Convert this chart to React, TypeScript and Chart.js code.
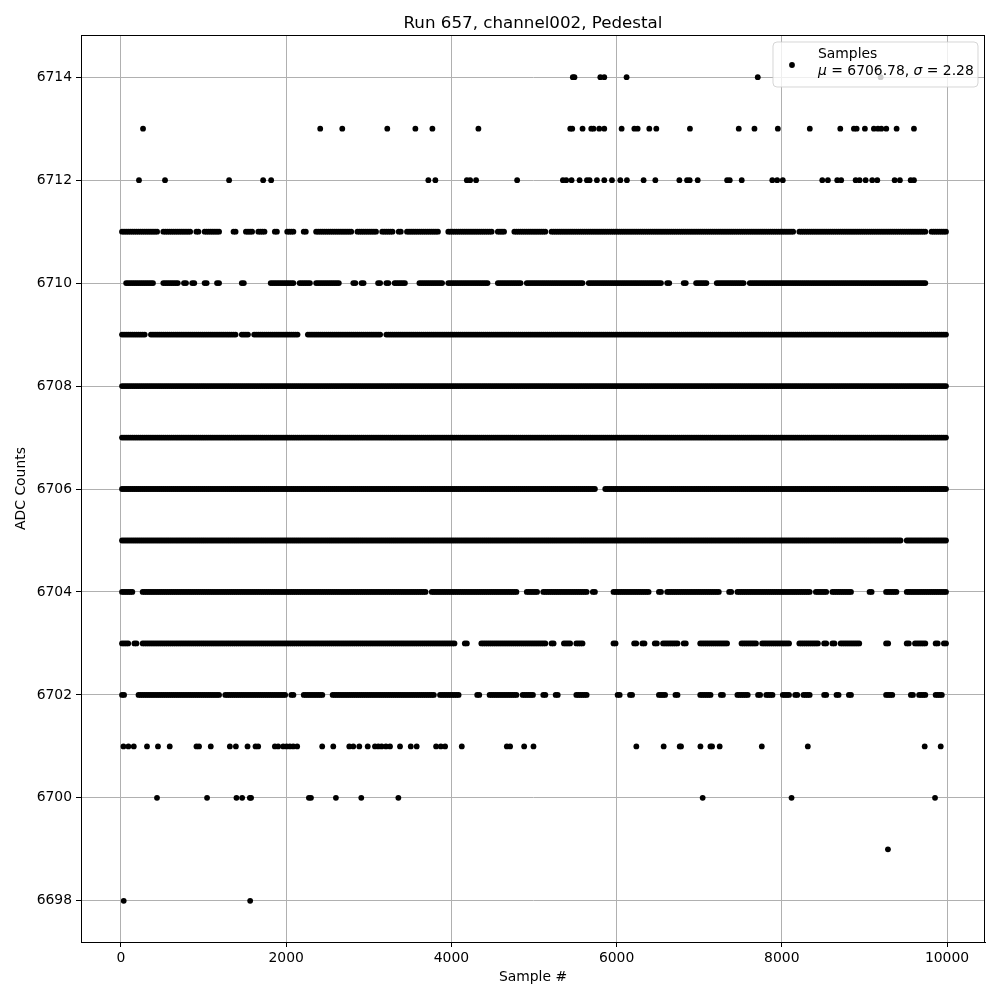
import React, { useEffect, useRef } from 'react';
import { Chart, registerables } from 'chart.js';

Chart.register(...registerables);

// ---- data ----
const TITLE = 'Run 657, channel002, Pedestal';
const X_LABEL = 'Sample #';
const Y_LABEL = 'ADC Counts';
const LEGEND_LINE1 = 'Samples';
const MU_VALUE = '6706.78';
const SIGMA_VALUE = '2.28';

const xTicks = [0, 2000, 4000, 6000, 8000, 10000];
const yTicks = [6698, 6700, 6702, 6704, 6706, 6708, 6710, 6712, 6714];

// Sparse levels: individual sample numbers
const samples6714 = [5470, 5490, 5803, 5851, 6121, 7709, 9197];
const samples6713 = [267, 2412, 2679, 3224, 3564, 3770, 4327, 5439, 5463, 5588, 5693, 5721, 5790, 5851, 6061, 6215, 6255, 6396, 6481, 6888, 7479, 7669, 7952, 8339, 8708, 8873, 8906, 9006, 9115, 9164, 9205, 9265, 9390, 9600];
const samples6712 = [218, 533, 1309, 1721, 1818, 3721, 3806, 4187, 4227, 4299, 4796, 5350, 5390, 5455, 5552, 5641, 5673, 5762, 5851, 5944, 6045, 6125, 6327, 6469, 6760, 6853, 6885, 6982, 7338, 7370, 7515, 7885, 7944, 8012, 8490, 8558, 8671, 8719, 8894, 8942, 9015, 9095, 9156, 9366, 9430, 9560, 9600];
const samples6701 = [30, 90, 155, 315, 448, 590, 914, 945, 1087, 1318, 1391, 1532, 1629, 1661, 1863, 1903, 1964, 2005, 2045, 2085, 2133, 2436, 2570, 2764, 2812, 2885, 2987, 3075, 3115, 3156, 3208, 3257, 3378, 3508, 3580, 3815, 3872, 3924, 4126, 4671, 4711, 4881, 4994, 6239, 6570, 6764, 6780, 7015, 7136, 7156, 7248, 7758, 8315, 9730, 9924];
const samples6700 = [436, 1042, 1398, 1467, 1560, 1575, 2275, 2300, 2602, 2909, 3358, 7042, 8118, 9855];
const samples6699 = [9285];
const samples6698 = [33, 1564];

// Dense levels: occupied 50-sample cells (cell index ranges, inclusive)
const CELL = 50;
const MARKS_PER_CELL = 2;
const cells6711 = [[0, 8], [10, 16], [18, 18], [20, 23], [27, 27], [30, 31], [33, 34], [37, 37], [40, 41], [44, 44], [47, 55], [57, 61], [63, 65], [67, 67], [69, 76], [79, 89], [91, 92], [95, 102], [104, 162], [164, 194], [196, 199]];
const cells6710 = [[1, 7], [10, 13], [15, 15], [17, 17], [20, 20], [23, 23], [29, 29], [36, 41], [43, 45], [47, 52], [56, 56], [58, 58], [62, 62], [64, 64], [66, 68], [72, 77], [79, 88], [91, 96], [98, 111], [113, 130], [132, 132], [136, 136], [139, 141], [144, 150], [152, 194]];
const cells6709 = [[0, 5], [7, 27], [29, 30], [32, 42], [45, 62], [64, 199]];
const cells6708 = [[0, 199]];
const cells6707 = [[0, 199]];
const cells6706 = [[0, 114], [117, 199]];
const cells6705 = [[0, 188], [190, 199]];
const cells6704 = [[0, 2], [5, 73], [75, 95], [98, 100], [102, 112], [114, 114], [119, 127], [130, 130], [132, 144], [147, 147], [149, 166], [168, 170], [172, 176], [181, 181], [185, 187], [190, 199]];
const cells6703 = [[0, 1], [3, 3], [5, 80], [83, 83], [87, 102], [104, 104], [107, 108], [110, 111], [119, 119], [124, 124], [126, 126], [129, 129], [131, 134], [136, 136], [140, 146], [150, 153], [155, 161], [164, 168], [170, 170], [172, 172], [174, 178], [185, 185], [190, 190], [192, 194], [197, 197], [199, 199]];
const cells6702 = [[0, 0], [4, 23], [25, 39], [41, 41], [44, 48], [51, 75], [77, 81], [86, 86], [89, 95], [97, 99], [102, 102], [105, 105], [110, 112], [120, 120], [123, 123], [130, 131], [134, 134], [140, 142], [145, 145], [149, 151], [154, 154], [156, 157], [160, 161], [163, 163], [165, 166], [170, 170], [173, 173], [176, 176], [185, 186], [191, 191], [193, 194], [197, 198]];

const sparseLevels: [number, number[]][] = [
  [6714, samples6714], [6713, samples6713], [6712, samples6712],
  [6701, samples6701], [6700, samples6700], [6699, samples6699], [6698, samples6698],
];
const cellLevels: [number, number[][]][] = [
  [6711, cells6711], [6710, cells6710], [6709, cells6709], [6708, cells6708], [6707, cells6707],
  [6706, cells6706], [6705, cells6705], [6704, cells6704], [6703, cells6703], [6702, cells6702],
];

function buildPoints() {
  const pts: { x: number; y: number }[] = [];
  for (const [lvl, arr] of sparseLevels) for (const s of arr) pts.push({ x: s, y: lvl });
  const sub = CELL / MARKS_PER_CELL;
  for (const [lvl, ranges] of cellLevels) {
    for (const [a, b] of ranges) {
      for (let c = a; c <= b; c++) {
        for (let k = 0; k < MARKS_PER_CELL; k++) pts.push({ x: c * CELL + (k + 0.5) * sub, y: lvl });
      }
    }
  }
  return pts;
}

const FONT = "'DejaVu Sans', sans-serif";

const decorPlugin = {
  id: 'decor',
  afterDraw(chart: any) {
    const { ctx, chartArea } = chart;
    const { left, right, top, bottom } = chartArea;
    ctx.save();
    // frame
    ctx.strokeStyle = '#000';
    ctx.lineWidth = 1;
    ctx.strokeRect(Math.round(left) + 0.5, Math.round(top) + 0.5, Math.round(right - left) - 1, Math.round(bottom - top));
    // title
    ctx.fillStyle = '#000';
    ctx.font = `16.7px ${FONT}`;
    ctx.textAlign = 'center';
    ctx.textBaseline = 'alphabetic';
    ctx.fillText(TITLE, (left + right) / 2, 28);
    // x label
    ctx.font = `13.9px ${FONT}`;
    ctx.textBaseline = 'middle';
    ctx.fillText(X_LABEL, (left + right) / 2, 977);
    // y label
    ctx.save();
    ctx.translate(21, (top + bottom) / 2);
    ctx.rotate(-Math.PI / 2);
    ctx.fillText(Y_LABEL, 0, 0);
    ctx.restore();
    // legend
    const lx = 773, ly = 42, lw = 205, lh = 45, r = 4;
    ctx.beginPath();
    ctx.moveTo(lx + r, ly);
    ctx.lineTo(lx + lw - r, ly);
    ctx.quadraticCurveTo(lx + lw, ly, lx + lw, ly + r);
    ctx.lineTo(lx + lw, ly + lh - r);
    ctx.quadraticCurveTo(lx + lw, ly + lh, lx + lw - r, ly + lh);
    ctx.lineTo(lx + r, ly + lh);
    ctx.quadraticCurveTo(lx, ly + lh, lx, ly + lh - r);
    ctx.lineTo(lx, ly + r);
    ctx.quadraticCurveTo(lx, ly, lx + r, ly);
    ctx.closePath();
    ctx.fillStyle = 'rgba(255,255,255,0.8)';
    ctx.fill();
    ctx.strokeStyle = 'rgba(204,204,204,0.8)';
    ctx.lineWidth = 1;
    ctx.stroke();
    // marker
    ctx.fillStyle = '#000';
    ctx.beginPath();
    ctx.arc(792, 65, 2.9, 0, Math.PI * 2);
    ctx.fill();
    // text
    ctx.textAlign = 'left';
    ctx.textBaseline = 'middle';
    ctx.font = `13.9px ${FONT}`;
    ctx.fillText(LEGEND_LINE1, 818, 54);
    let x = 818;
    const y2 = 71;
    const parts: [string, boolean][] = [
      ['\u03bc', true], [` = ${MU_VALUE}, `, false], ['\u03c3', true], [` = ${SIGMA_VALUE}`, false],
    ];
    for (const [t, it] of parts) {
      ctx.font = `${it ? 'italic ' : ''}13.9px ${FONT}`;
      ctx.fillText(t, x, y2);
      x += ctx.measureText(t).width;
    }
    ctx.restore();
  },
};

export default function App() {
  const ref = useRef<HTMLCanvasElement | null>(null);
  useEffect(() => {
    if (!ref.current) return;
    const chart = new Chart(ref.current, {
      type: 'scatter',
      data: {
        datasets: [{
          label: LEGEND_LINE1,
          data: buildPoints(),
          backgroundColor: '#000',
          borderWidth: 0,
          pointRadius: 2.9,
          pointHoverRadius: 2.9,
        }],
      },
      options: {
        responsive: false,
        animation: false,
        layout: { padding: { top: 35, right: 15, left: 0, bottom: 0 } },
        plugins: { legend: { display: false }, title: { display: false }, tooltip: { enabled: false } },
        scales: {
          x: {
            type: 'linear',
            min: -484,
            max: 10460,
            afterBuildTicks: (s: any) => { s.ticks = xTicks.map((v) => ({ value: v })); },
            afterFit: (s: any) => { s.height = 58; },
            grid: { color: '#b0b0b0', lineWidth: 1, tickColor: '#000', tickLength: 5 },
            border: { display: true, color: '#000', width: 1 },
            ticks: { color: '#000', font: { family: FONT, size: 13.9 }, padding: 3, maxRotation: 0, callback: (v: any) => String(v) },
          },
          y: {
            type: 'linear',
            min: 6697.2,
            max: 6714.82,
            afterBuildTicks: (s: any) => { s.ticks = yTicks.map((v) => ({ value: v })); },
            afterFit: (s: any) => { s.width = 81; },
            grid: { color: '#b0b0b0', lineWidth: 1, tickColor: '#000', tickLength: 5 },
            border: { display: true, color: '#000', width: 1 },
            ticks: { color: '#000', font: { family: FONT, size: 13.9 }, padding: 4, callback: (v: any) => String(v) },
          },
        },
      },
      plugins: [decorPlugin],
    });
    return () => chart.destroy();
  }, []);
  return (
    <div style={{ position: 'fixed', left: 0, top: 0, width: 1000, height: 1000, background: '#fff' }}>
      <canvas ref={ref} width={1000} height={1000} style={{ width: 1000, height: 1000, display: 'block' }} />
    </div>
  );
}
